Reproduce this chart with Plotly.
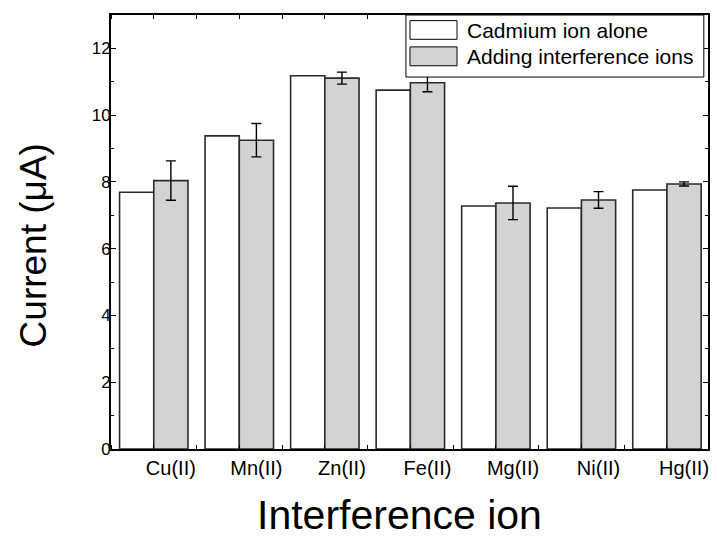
import plotly.graph_objects as go

# Interference study: cadmium signal alone vs. with interfering ions added
ions = ["Cu(II)", "Mn(II)", "Zn(II)", "Fe(II)", "Mg(II)", "Ni(II)", "Hg(II)"]
cd_alone = [7.69, 9.38, 11.18, 10.75, 7.28, 7.22, 7.76]
with_interf = [8.04, 9.25, 11.11, 10.97, 7.37, 7.46, 7.94]
with_interf_err = [0.59, 0.50, 0.18, 0.27, 0.50, 0.25, 0.06]

FONT = "Liberation Sans, Arial, sans-serif"
BAR_W = 0.4
pos = list(range(1, len(ions) + 1))

fig = go.Figure()
fig.add_trace(go.Bar(
    x=[p - BAR_W / 2 for p in pos], y=cd_alone, width=BAR_W,
    marker=dict(color="white", line=dict(color="#2b2b2b", width=1.6)),
    name="Cadmium ion alone", showlegend=False,
))
fig.add_trace(go.Bar(
    x=[p + BAR_W / 2 for p in pos], y=with_interf, width=BAR_W,
    marker=dict(color="#d3d3d3", line=dict(color="#2b2b2b", width=1.6)),
    error_y=dict(type="data", array=with_interf_err, color="black",
                 thickness=1.4, width=5),
    name="Adding interference ions", showlegend=False,
))

x_range = [0.5, 7.48]
half_steps = [0.5 * k for k in range(1, 2 * len(ions) + 1)]

fig.update_layout(
    width=717, height=540,
    margin=dict(l=111, r=9, t=15, b=91),
    plot_bgcolor="white", paper_bgcolor="white",
    barmode="overlay",
    font=dict(family=FONT, color="black"),
    xaxis=dict(
        range=x_range, showgrid=False, zeroline=False, automargin=False,
        showline=True, linecolor="black", linewidth=2, mirror="allticks",
        tickmode="array", tickvals=[p + 0.2 for p in pos], ticktext=ions,
        ticks="", tickfont=dict(size=20, family=FONT),
        minor=dict(tickmode="array", tickvals=half_steps, ticks="inside",
                   ticklen=4, tickcolor="black", tickwidth=1),
    ),
    yaxis=dict(
        range=[0, 13], showgrid=False, zeroline=False, automargin=False,
        showline=True, linecolor="black", linewidth=2, mirror="allticks",
        tickmode="linear", tick0=0, dtick=2,
        ticks="inside", ticklen=5, tickcolor="black", tickwidth=1,
        tickfont=dict(size=17, family=FONT), ticklabelstandoff=-5,
        minor=dict(dtick=1, ticks="inside", ticklen=3, tickcolor="black",
                   tickwidth=1),
    ),
)

# Axis titles
fig.add_annotation(text="Current (\u03bcA)", xref="paper", yref="paper",
                   x=-0.13, y=0.47, textangle=-90, showarrow=False,
                   xanchor="center", yanchor="middle",
                   font=dict(size=37, family=FONT))
fig.add_annotation(text="Interference ion", xref="paper", yref="paper",
                   x=0.484, y=-0.153, showarrow=False,
                   xanchor="center", yanchor="middle",
                   font=dict(size=41, family=FONT))

# Legend box with wide swatches
fig.add_shape(type="rect", xref="paper", yref="paper",
              x0=0.494, x1=0.993, y0=0.857, y1=1.0,
              line=dict(color="black", width=1), fillcolor="white")
legend_items = [("Cadmium ion alone", "white", 0.944, 0.987, 0.965),
                ("Adding interference ions", "#d3d3d3", 0.883, 0.9265, 0.9055)]
for label, fill, y0, y1, yt in legend_items:
    fig.add_shape(type="rect", xref="paper", yref="paper",
                  x0=0.5008, x1=0.5796, y0=y0, y1=y1,
                  line=dict(color="black", width=1), fillcolor=fill)
    fig.add_annotation(text=label, xref="paper", yref="paper",
                       x=0.593, y=yt, xanchor="left", yanchor="middle",
                       showarrow=False, font=dict(size=21, family=FONT))

fig.write_html("out.html")
